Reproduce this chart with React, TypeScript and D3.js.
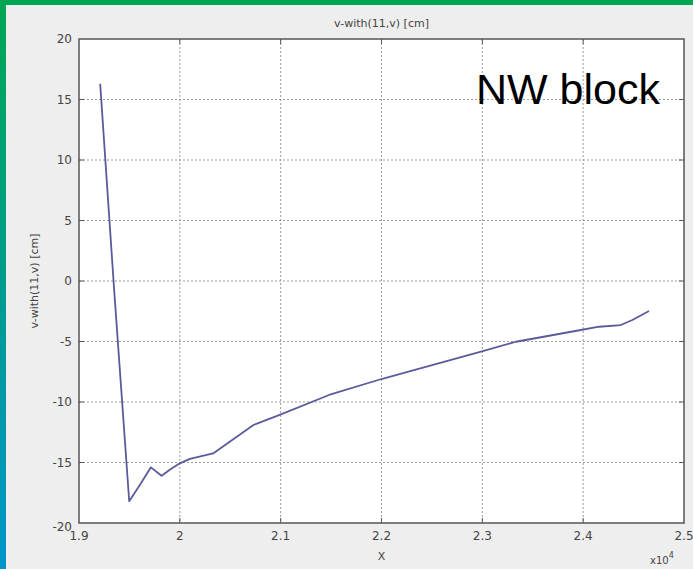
import React from 'react';
import * as d3 from 'd3';

// X values are in real units; axis shows them as x10^4
const xValues = [19210, 19350, 19498, 19600, 19713, 19819, 19900, 20000, 20100, 20330, 20730, 20990, 21480, 22000, 22178, 22987, 23333, 23977, 24158, 24373, 24488, 24653];
const vValues = [16.3, -0.9, -18.2, -16.9, -15.4, -16.1, -15.6, -15.07, -14.7, -14.25, -11.9, -11.07, -9.42, -8.1, -7.69, -5.84, -5.02, -4.05, -3.78, -3.64, -3.22, -2.48];

const xTicks = [19000, 20000, 21000, 22000, 23000, 24000, 25000];
const xTickLabels = ['1.9', '2', '2.1', '2.2', '2.3', '2.4', '2.5'];
const yTicks = [20, 15, 10, 5, 0, -5, -10, -15, -20];

const W = 693;
const H = 569;
const plot = { left: 79, right: 684, top: 39, bottom: 523 };

const App = () => {
  const x = d3.scaleLinear().domain([19000, 25000]).range([plot.left, plot.right]);
  const y = d3.scaleLinear().domain([-20, 20]).range([plot.bottom, plot.top]);

  const pts = xValues.map((xv, i) => [xv, vValues[i]] as [number, number]);
  const line = d3
    .line<[number, number]>()
    .x(d => x(d[0]))
    .y(d => y(d[1]));

  const font = 'DejaVu Sans, sans-serif';

  return (
    <svg
      width={W}
      height={H}
      style={{ position: 'absolute', left: 0, top: 0, display: 'block' }}
    >
      <defs>
        <linearGradient id="edge" x1="0" y1="0" x2="0" y2="1">
          <stop offset="0" stopColor="#00a653" />
          <stop offset="1" stopColor="#0093cb" />
        </linearGradient>
      </defs>
      <rect x={0} y={0} width={W} height={H} fill="#eeeeee" />
      <rect x={0} y={0} width={W} height={5} fill="#00a651" />
      <rect x={0} y={0} width={6} height={H} fill="url(#edge)" />

      {/* plot area */}
      <rect
        x={plot.left}
        y={plot.top}
        width={plot.right - plot.left}
        height={plot.bottom - plot.top}
        fill="#ffffff"
      />

      {/* grid */}
      {xTicks.slice(1, -1).map(t => (
        <line
          key={'gx' + t}
          x1={x(t)}
          x2={x(t)}
          y1={plot.top}
          y2={plot.bottom}
          stroke="#9a9a9a"
          strokeDasharray="2,2"
        />
      ))}
      {yTicks.slice(1, -1).map(t => (
        <line
          key={'gy' + t}
          x1={plot.left}
          x2={plot.right}
          y1={y(t)}
          y2={y(t)}
          stroke="#9a9a9a"
          strokeDasharray="2,2"
        />
      ))}

      {/* tick marks inside the box */}
      {xTicks.slice(1, -1).map(t => (
        <g key={'tx' + t} stroke="#555">
          <line x1={x(t)} x2={x(t)} y1={plot.top} y2={plot.top + 5} />
          <line x1={x(t)} x2={x(t)} y1={plot.bottom} y2={plot.bottom - 5} />
        </g>
      ))}
      {yTicks.slice(1, -1).map(t => (
        <g key={'ty' + t} stroke="#555">
          <line x1={plot.left} x2={plot.left + 5} y1={y(t)} y2={y(t)} />
          <line x1={plot.right} x2={plot.right - 5} y1={y(t)} y2={y(t)} />
        </g>
      ))}

      <rect
        x={plot.left}
        y={plot.top}
        width={plot.right - plot.left}
        height={plot.bottom - plot.top}
        fill="none"
        stroke="#555"
        strokeWidth={1.5}
      />

      {/* data */}
      <path d={line(pts) || ''} fill="none" stroke="#5b5b9c" strokeWidth={1.8} strokeLinejoin="round" />

      {/* y tick labels */}
      {yTicks.map(t => (
        <text
          key={'ly' + t}
          x={plot.left - 7}
          y={y(t) + (t === -20 ? 8 : 4)}
          textAnchor="end"
          fontFamily={font}
          fontSize={12}
          fill="#444"
        >
          {t}
        </text>
      ))}

      {/* x tick labels */}
      {xTicks.map((t, i) => (
        <text
          key={'lx' + t}
          x={x(t)}
          y={plot.bottom + 17}
          textAnchor="middle"
          fontFamily={font}
          fontSize={12}
          fill="#444"
        >
          {xTickLabels[i]}
        </text>
      ))}

      <text x={(plot.left + plot.right) / 2} y={27} textAnchor="middle" fontFamily={font} fontSize={11} fill="#444">
        v-with(11,v) [cm]
      </text>
      <text
        transform={`translate(38,${(plot.top + plot.bottom) / 2}) rotate(-90)`}
        textAnchor="middle"
        fontFamily={font}
        fontSize={11}
        fill="#444"
      >
        v-with(11,v) [cm]
      </text>
      <text x={(plot.left + plot.right) / 2} y={560} textAnchor="middle" fontFamily={font} fontSize={11} fill="#444">
        X
      </text>
      <text x={650} y={564} fontFamily={font} fontSize={10} fill="#444">
        x10
        <tspan dy={-6} fontSize={8}>
          4
        </tspan>
      </text>

      <text x={476} y={104} fontFamily="Liberation Sans, Arial, sans-serif" fontSize={43} fill="#000">
        NW block
      </text>
    </svg>
  );
};

export default App;
